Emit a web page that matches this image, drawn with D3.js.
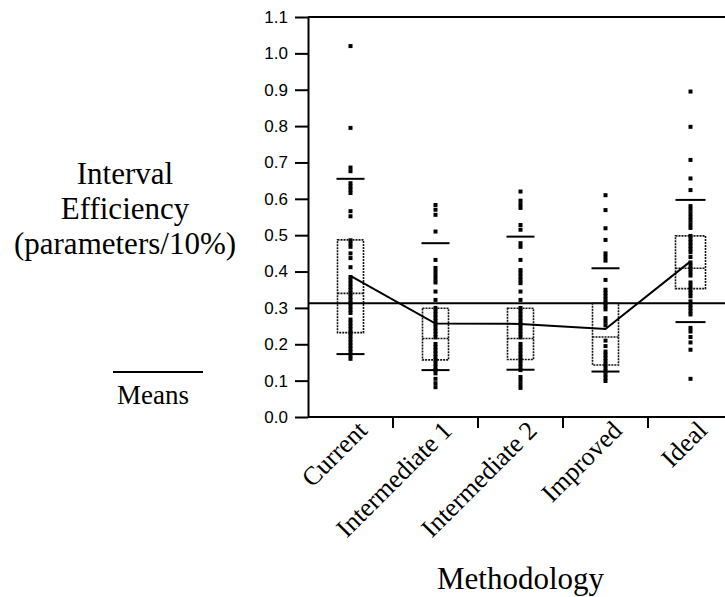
<!DOCTYPE html>
<html>
<head>
<meta charset="utf-8">
<script src="https://cdn.jsdelivr.net/npm/d3@7/dist/d3.min.js"></script>
<style>
  html, body { margin: 0; padding: 0; background: #fff; }
  svg { display: block; }
</style>
</head>
<body>
<svg id="chart" width="725" height="597"></svg>
<script>
// Interval efficiency by methodology: individual runs, quantile boxes, means.
const categories = ["Current", "Intermediate 1", "Intermediate 2", "Improved", "Ideal"];

const pointsCurrent = [1.02, 0.795, 0.686, 0.676, 0.643, 0.634, 0.625, 0.616, 0.566, 0.552,
  0.486, 0.477, 0.468, 0.450, 0.437, 0.412, 0.385, 0.376, 0.367, 0.358, 0.349, 0.340,
  0.331, 0.322, 0.313, 0.304, 0.295, 0.286, 0.268, 0.259, 0.250, 0.241, 0.232, 0.223,
  0.214, 0.205, 0.196, 0.187, 0.178, 0.169, 0.160];
const pointsInter1 = [0.583, 0.570, 0.556, 0.510, 0.432, 0.410, 0.400, 0.390, 0.380, 0.370,
  0.345, 0.322, 0.300, 0.291, 0.282, 0.273, 0.264, 0.255, 0.246, 0.237, 0.228, 0.219,
  0.201, 0.192, 0.183, 0.174, 0.165, 0.156, 0.147, 0.138, 0.129, 0.120, 0.105, 0.093, 0.082];
const pointsInter2 = [0.620, 0.595, 0.585, 0.575, 0.528, 0.515, 0.478, 0.468, 0.432, 0.404,
  0.395, 0.386, 0.377, 0.368, 0.345, 0.322, 0.300, 0.291, 0.282, 0.273, 0.264, 0.255,
  0.246, 0.237, 0.228, 0.219, 0.201, 0.192, 0.183, 0.174, 0.165, 0.156, 0.147, 0.138,
  0.129, 0.110, 0.100, 0.090, 0.080];
const pointsImproved = [0.610, 0.569, 0.519, 0.487, 0.450, 0.440, 0.430, 0.377, 0.350, 0.341,
  0.332, 0.323, 0.314, 0.305, 0.296, 0.272, 0.262, 0.252, 0.210, 0.195, 0.180, 0.171,
  0.162, 0.153, 0.144, 0.135, 0.126, 0.117, 0.108, 0.099];
const pointsIdeal = [0.895, 0.798, 0.707, 0.656, 0.624, 0.580, 0.570, 0.560, 0.550, 0.540,
  0.530, 0.520, 0.498, 0.489, 0.480, 0.471, 0.462, 0.453, 0.440, 0.425, 0.416, 0.407,
  0.398, 0.389, 0.370, 0.360, 0.350, 0.341, 0.332, 0.318, 0.309, 0.300, 0.291, 0.282,
  0.245, 0.235, 0.220, 0.205, 0.185, 0.105];

// Quantiles per methodology
const q90 = [0.655, 0.478, 0.496, 0.409, 0.597];
const q75 = [0.487, 0.299, 0.299, 0.313, 0.498];
const q50 = [0.340, 0.216, 0.216, 0.220, 0.409];
const q25 = [0.232, 0.157, 0.158, 0.143, 0.353];
const q10 = [0.173, 0.129, 0.130, 0.125, 0.261];
const means = [0.388, 0.257, 0.256, 0.242, 0.428];
const grandMean = 0.313;

const yTicks = [0.0, 0.1, 0.2, 0.3, 0.4, 0.5, 0.6, 0.7, 0.8, 0.9, 1.0, 1.1];

const groups = categories.map((c, i) => ({
  cat: c,
  points: [pointsCurrent, pointsInter1, pointsInter2, pointsImproved, pointsIdeal][i],
  q90: q90[i], q75: q75[i], q50: q50[i], q25: q25[i], q10: q10[i], mean: means[i]
}));

// Layout
const plotLeft = 308, plotRight = 733, plotTop = 17, plotBottom = 417;
const boxW = [26, 26, 26, 26, 30];
const capW = [28, 28, 28, 28, 30];

const svg = d3.select("#chart");

const x = d3.scaleBand().domain(categories).range([plotLeft, plotRight]).padding(0);
const y = d3.scaleLinear().domain([0, 1.1]).range([plotBottom, plotTop]);
const cx = c => x(c) + x.bandwidth() / 2;

const sans = "'Liberation Sans', Arial, Helvetica, sans-serif";
const serif = "'Liberation Serif', 'Times New Roman', Times, serif";

// Grand mean reference line
svg.append("line")
  .attr("x1", plotLeft).attr("x2", plotRight)
  .attr("y1", y(grandMean)).attr("y2", y(grandMean))
  .attr("stroke", "#000").attr("stroke-width", 2);

// Quantile boxes
const g = svg.append("g").selectAll("g").data(groups).join("g");

g.append("rect")
  .attr("x", (d, i) => cx(d.cat) - boxW[i] / 2)
  .attr("width", (d, i) => boxW[i])
  .attr("y", d => y(d.q75))
  .attr("height", d => y(d.q25) - y(d.q75))
  .attr("fill", "none")
  .attr("stroke", "#111").attr("stroke-width", 1.6)
  .attr("stroke-dasharray", "2,1");

g.append("line")
  .attr("x1", (d, i) => cx(d.cat) - boxW[i] / 2)
  .attr("x2", (d, i) => cx(d.cat) + boxW[i] / 2)
  .attr("y1", d => y(d.q50)).attr("y2", d => y(d.q50))
  .attr("stroke", "#111").attr("stroke-width", 1.6)
  .attr("stroke-dasharray", "2,1");

// 10th and 90th percentile marks
["q10", "q90"].forEach(k => {
  g.append("line")
    .attr("x1", (d, i) => cx(d.cat) - capW[i] / 2)
    .attr("x2", (d, i) => cx(d.cat) + capW[i] / 2)
    .attr("y1", d => y(d[k])).attr("y2", d => y(d[k]))
    .attr("stroke", "#000").attr("stroke-width", 2);
});

// Individual observations
g.selectAll("rect.pt")
  .data(d => d.points.map(v => ({ cat: d.cat, v })))
  .join("rect")
  .attr("class", "pt")
  .attr("x", d => cx(d.cat) - 2)
  .attr("y", d => y(d.v) - 2)
  .attr("width", 4).attr("height", 4)
  .attr("fill", "#000");

// Means connected
svg.append("path")
  .datum(groups)
  .attr("d", d3.line().x(d => cx(d.cat)).y(d => y(d.mean)))
  .attr("fill", "none")
  .attr("stroke", "#000").attr("stroke-width", 2);

// Y axis
const yAxis = svg.append("g")
  .attr("transform", `translate(${plotLeft},0)`)
  .call(d3.axisLeft(y).tickValues(yTicks).tickFormat(d3.format(".1f")).tickSize(13).tickSizeOuter(0));
yAxis.select(".domain").attr("stroke", "#000").attr("stroke-width", 2);
yAxis.selectAll(".tick line").attr("stroke", "#000").attr("stroke-width", 2);
yAxis.selectAll(".tick text")
  .attr("x", -20)
  .attr("font-family", sans).attr("font-size", 17).attr("fill", "#000");

// Top frame
svg.append("line")
  .attr("x1", plotLeft).attr("x2", plotRight)
  .attr("y1", plotTop).attr("y2", plotTop)
  .attr("stroke", "#000").attr("stroke-width", 2);

// X axis with ticks at category boundaries
svg.append("line")
  .attr("x1", plotLeft).attr("x2", plotRight)
  .attr("y1", plotBottom).attr("y2", plotBottom)
  .attr("stroke", "#000").attr("stroke-width", 2);
svg.append("g").selectAll("line")
  .data(categories.slice(1))
  .join("line")
  .attr("x1", d => x(d)).attr("x2", d => x(d))
  .attr("y1", plotBottom).attr("y2", plotBottom + 11)
  .attr("stroke", "#000").attr("stroke-width", 2);

// Category labels, rotated
svg.append("g").selectAll("text")
  .data(categories)
  .join("text")
  .attr("transform", d => `translate(${cx(d) + 18},${plotBottom + 15}) rotate(-45)`)
  .attr("text-anchor", "end")
  .attr("font-family", serif).attr("font-size", 26).attr("fill", "#000")
  .text(d => d);

// X title
svg.append("text")
  .attr("x", (plotLeft + plotRight) / 2).attr("y", 589)
  .attr("text-anchor", "middle")
  .attr("font-family", serif).attr("font-size", 31).attr("fill", "#000")
  .text("Methodology");

// Y title
const yTitle = ["Interval", "Efficiency", "(parameters/10%)"];
svg.append("g").selectAll("text")
  .data(yTitle)
  .join("text")
  .attr("x", 125).attr("y", (d, i) => 184 + i * 35)
  .attr("text-anchor", "middle")
  .attr("font-family", serif).attr("font-size", 31).attr("fill", "#000")
  .text(d => d);

// Legend
svg.append("line")
  .attr("x1", 113).attr("x2", 203).attr("y1", 372).attr("y2", 372)
  .attr("stroke", "#000").attr("stroke-width", 2);
svg.append("text")
  .attr("x", 117).attr("y", 404)
  .attr("text-anchor", "start")
  .attr("font-family", serif).attr("font-size", 27).attr("fill", "#000")
  .text("Means");
</script>
</body>
</html>
